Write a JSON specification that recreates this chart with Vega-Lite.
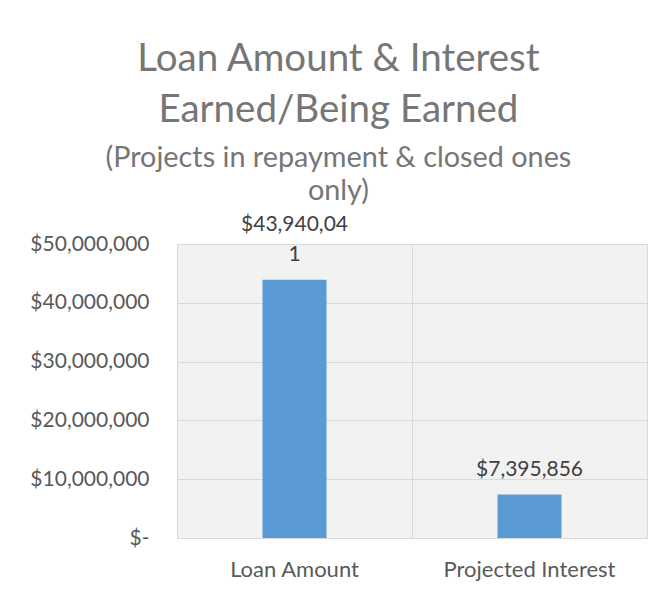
{
  "$schema": "https://vega.github.io/schema/vega-lite/v6.json",
  "width": 470,
  "height": 294,
  "padding": {"left": 29, "top": 40, "right": 20, "bottom": 10},
  "background": "white",
  "title": {
    "text": ["Loan Amount & Interest", "Earned/Being Earned"],
    "subtitle": ["(Projects in repayment & closed ones", "only)"],
    "anchor": "middle",
    "frame": "bounds",
    "font": "Lato",
    "fontSize": 38.5,
    "fontWeight": "normal",
    "lineHeight": 51,
    "color": "#767676",
    "subtitleFont": "Lato",
    "subtitleFontSize": 28.8,
    "subtitleLineHeight": 33,
    "subtitleColor": "#767676",
    "subtitlePadding": 13,
    "offset": 7
  },
  "data": {
    "values": [
      {"category": "Loan Amount", "amount": 43940041, "line1": "$43,940,04", "line2": "1"},
      {"category": "Projected Interest", "amount": 7395856, "line1": "", "line2": "$7,395,856"}
    ]
  },
  "encoding": {
    "x": {
      "field": "category",
      "type": "nominal",
      "sort": null,
      "scale": {"paddingInner": 0, "paddingOuter": 0},
      "axis": {
        "title": null,
        "labelAngle": 0,
        "grid": true,
        "bandPosition": 0,
        "ticks": false,
        "domain": false,
        "labelPadding": 21,
        "labelFontSize": 22,
        "labelFont": "Lato",
        "labelColor": "#595959",
        "gridColor": "#d9d9d9"
      }
    },
    "y": {
      "field": "amount",
      "type": "quantitative",
      "scale": {"domain": [0, 50000000], "nice": false},
      "axis": {
        "title": null,
        "values": [0, 10000000, 20000000, 30000000, 40000000, 50000000],
        "labelExpr": "datum.value == 0 ? '$-' : '$' + format(datum.value, ',')",
        "ticks": false,
        "domain": false,
        "labelPadding": 28,
        "labelFontSize": 21,
        "labelFont": "Lato",
        "labelColor": "#595959",
        "gridColor": "#d9d9d9"
      }
    }
  },
  "layer": [
    {"mark": {"type": "bar", "width": 64, "color": "#5b9bd5"}},
    {
      "mark": {"type": "text", "baseline": "middle", "dy": -25, "font": "Lato", "fontSize": 21, "color": "#404040"},
      "encoding": {"text": {"field": "line2"}}
    },
    {
      "mark": {"type": "text", "baseline": "middle", "dy": -55, "font": "Lato", "fontSize": 21, "color": "#404040"},
      "encoding": {"text": {"field": "line1"}}
    }
  ],
  "config": {
    "view": {"stroke": "#d9d9d9", "fill": "#f2f2f2"}
  }
}
